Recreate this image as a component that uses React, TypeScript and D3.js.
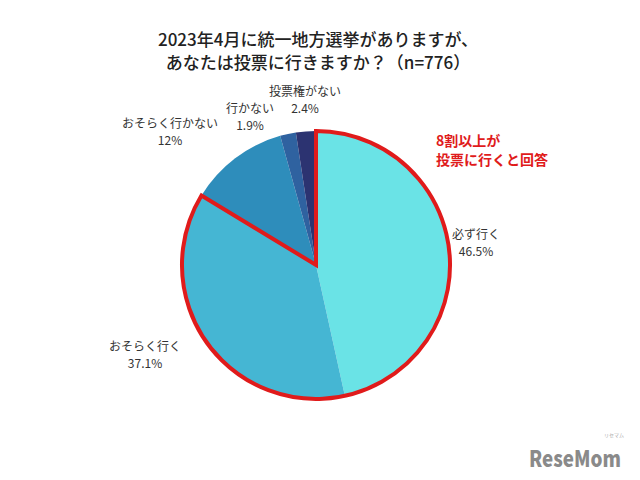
import React from "react";
import * as d3 from "d3";

const categories = ["必ず行く", "おそらく行く", "おそらく行かない", "行かない", "投票権がない"];
const values = [46.5, 37.1, 12, 1.9, 2.4];
const valueLabels = ["46.5%", "37.1%", "12%", "1.9%", "2.4%"];
const colors = ["#6ae3e6", "#45b6d3", "#2e8dbb", "#2f62a0", "#2c3371"];
const highlighted = [0, 1];
const titleLines = ["2023年4月に統一地方選挙がありますが、", "あなたは投票に行きますか？（n=776）"];
const annotationLines = ["8割以上が", "投票に行くと回答"];
// label anchor positions (relative to chart frame)
const labelPos: [number, number][] = [
  [476, 239],
  [145, 351],
  [170, 128],
  [250, 113],
  [305, 96],
];

export default function App() {
  const W = 640, H = 480;
  const cx = 316, cy = 265, r = 134;
  const font = "'Noto Sans CJK JP', 'Noto Sans', sans-serif";
  const pie = d3.pie<number>().sort(null).value((d) => d);
  const arcs = pie(values);
  const arcGen = d3.arc<d3.PieArcDatum<number>>().innerRadius(0).outerRadius(r);
  const hiStart = arcs[highlighted[0]].startAngle;
  const hiEnd = arcs[highlighted[highlighted.length - 1]].endAngle;
  const hiPath = d3.arc()({ innerRadius: 0, outerRadius: r, startAngle: hiStart, endAngle: hiEnd } as any) as string;

  return (
    <svg width={W} height={H} style={{ position: "absolute", left: 0, top: 0, background: "#fff" }}>
      <rect width={W} height={H} fill="#fff" />
      {titleLines.map((t, i) => (
        <text key={i} x={318} y={46 + i * 23} textAnchor="middle" fontFamily={font} fontSize={17} fontWeight={500} fill="#222">
          {t}
        </text>
      ))}
      <g transform={`translate(${cx},${cy})`}>
        {arcs.map((a, i) => (
          <path key={i} d={arcGen(a) as string} fill={colors[i]} />
        ))}
        <path d={hiPath} fill="none" stroke="#e01b1b" strokeWidth={4} strokeLinejoin="miter" />
      </g>
      {categories.map((c, i) => (
        <g key={i} fontFamily={font} fontSize={12} fill="#333" textAnchor="middle">
          <text x={labelPos[i][0]} y={labelPos[i][1]}>{c}</text>
          <text x={labelPos[i][0]} y={labelPos[i][1] + 17}>{valueLabels[i]}</text>
        </g>
      ))}
      {annotationLines.map((t, i) => (
        <text key={i} x={436} y={146 + i * 19} fontFamily={font} fontSize={14} fontWeight={700} fill="#e01b1b">
          {t}
        </text>
      ))}
      <g fontFamily={font} fill="#8a8a8a">
        <text x={529} y={467} fontSize={22} fontWeight={900} textLength={92} lengthAdjust="spacingAndGlyphs">ReseMom</text>
        <text x={604} y={437} fontSize={5} fill="#aaa">リセマム</text>
      </g>
    </svg>
  );
}
